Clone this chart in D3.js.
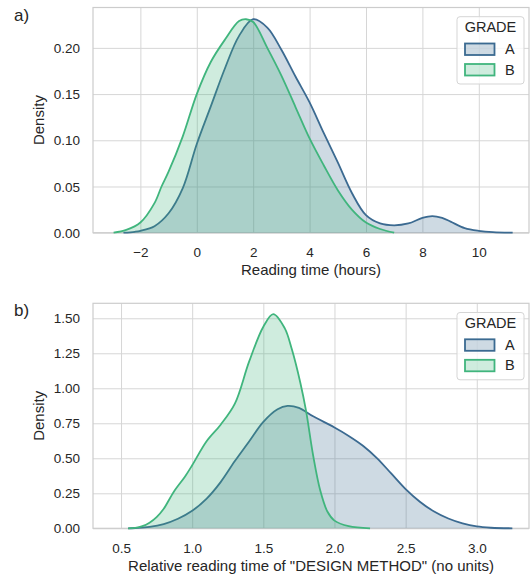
<!DOCTYPE html>
<html>
<head>
<meta charset="utf-8">
<script src="https://cdn.jsdelivr.net/npm/d3@7"></script>
<style>
  body { margin: 0; background: #fff; }
  text { font-family: "Liberation Sans", Arial, sans-serif; fill: #262626; }
</style>
</head>
<body>
<script>
// data: [x, density]
var grades = ["A", "B"];
var gradeColors = ["#3b6a91", "#40b57d"];

var hoursA = [[-2.6,0],[-2.2,0.001],[-2,0.002],[-1.5,0.007],[-1,0.021],[-0.5,0.048],[0,0.096],[0.5,0.137],[1,0.178],
  [1.5,0.213],[2,0.231],[2.5,0.222],[3,0.198],[3.5,0.169],[4,0.141],[4.5,0.108],[5,0.076],[5.5,0.043],
  [6,0.019],[6.5,0.010],[7,0.008],[7.5,0.010],[8,0.016],[8.35,0.018],[8.7,0.016],[9,0.012],[9.5,0.005],
  [10,0.002],[10.5,0.0006],[11.2,0]];
var hoursB = [[-2.95,0],[-2.5,0.003],[-2,0.011],[-1.5,0.032],[-1.25,0.050],[-1,0.066],[-0.5,0.104],
  [0,0.150],[0.5,0.185],[1,0.209],[1.5,0.229],[1.75,0.231],[2,0.228],[2.5,0.200],[3,0.170],[3.5,0.136],
  [4,0.102],[4.5,0.073],[5,0.046],[5.5,0.025],[6,0.011],[6.5,0.004],[7,0]];

var relA = [[0.55,0],[0.6,0.002],[0.7,0.010],[0.8,0.030],[0.9,0.068],[1.0,0.125],[1.1,0.21],[1.2,0.33],
  [1.3,0.48],[1.4,0.62],[1.5,0.76],[1.6,0.85],[1.67,0.874],[1.75,0.86],[1.85,0.80],[2.0,0.72],[2.1,0.66],
  [2.2,0.59],[2.3,0.50],[2.4,0.39],[2.5,0.28],[2.6,0.19],[2.7,0.12],[2.8,0.07],[2.9,0.035],[3.0,0.013],
  [3.1,0.004],[3.25,0]];
var relB = [[0.55,0],[0.6,0.003],[0.65,0.015],[0.7,0.04],[0.75,0.08],[0.8,0.14],[0.87,0.26],[0.95,0.37],
  [1.0,0.45],[1.1,0.62],[1.2,0.74],[1.3,0.89],[1.4,1.19],[1.5,1.44],[1.57,1.53],[1.65,1.43],[1.7,1.28],
  [1.76,1.04],[1.8,0.84],[1.85,0.52],[1.9,0.27],[1.95,0.12],[2.0,0.055],[2.1,0.015],[2.25,0]];

var hoursTicks = [-2, 0, 2, 4, 6, 8, 10];
var hoursDensityTicks = [0, 0.05, 0.10, 0.15, 0.20];
var relTicks = [0.5, 1.0, 1.5, 2.0, 2.5, 3.0];
var relDensityTicks = [0, 0.25, 0.5, 0.75, 1.0, 1.25, 1.5];

var svg = d3.select("body").append("svg")
    .attr("width", 530)
    .attr("height", 578);

function drawPanel(p) {
    var x = d3.scaleLinear().domain(p.xDomain).range([93, 529]);
    var y = d3.scaleLinear().domain(p.yDomain).range([p.bottom, p.top]);
    var width = 529 - 93, height = p.bottom - p.top;

    var g = svg.append("g");

    // grid
    var xAxis = d3.axisBottom(x).tickValues(p.xTicks).tickSize(-height).tickFormat(d3.format(p.xFmt));
    var yAxis = d3.axisLeft(y).tickValues(p.yTicks).tickSize(-width).tickFormat(d3.format(p.yFmt));

    var gx = g.append("g").attr("transform", "translate(0," + p.bottom + ")").call(xAxis);
    gx.select(".domain").remove();
    gx.selectAll(".tick line").attr("stroke", "#d6d6d6").attr("stroke-width", 1);
    gx.selectAll(".tick text").attr("y", 24.5).attr("dy", 0)
        .attr("font-size", "13.5px").attr("fill", "#262626");

    var gy = g.append("g").attr("transform", "translate(93,0)").call(yAxis);
    gy.select(".domain").remove();
    gy.selectAll(".tick line").attr("stroke", "#d6d6d6").attr("stroke-width", 1);
    gy.selectAll(".tick text").attr("x", -13).attr("dy", "0.34em")
        .attr("font-size", "13.5px").attr("fill", "#262626");

    g.selectAll(".tick text").attr("font-family", null);

    // frame
    g.append("rect")
        .attr("x", 93).attr("y", p.top)
        .attr("width", width).attr("height", height)
        .attr("fill", "none").attr("stroke", "#cccccc").attr("stroke-width", 1.2);

    var curve = d3.curveCatmullRom.alpha(0.5);
    var yv = function(d) { return y(Math.max(0, d[1])); };

    var area = d3.area()
        .curve(curve)
        .x(function(d) { return x(d[0]); })
        .y0(y(0))
        .y1(yv);

    var line = d3.line()
        .curve(curve)
        .x(function(d) { return x(d[0]); })
        .y(yv);

    p.series.forEach(function(s, i) {
        g.append("path").datum(s)
            .attr("d", area)
            .attr("fill", gradeColors[i])
            .attr("fill-opacity", 0.25);
        g.append("path").datum(s)
            .attr("d", line)
            .attr("fill", "none")
            .attr("stroke", gradeColors[i])
            .attr("stroke-width", 1.8);
    });

    // axis labels
    g.append("text")
        .attr("x", 311).attr("y", p.bottom + 42.5)
        .attr("text-anchor", "middle")
        .attr("font-size", "15px")
        .text(p.xLabel);

    g.append("text")
        .attr("transform", "translate(44," + (p.top + p.bottom) / 2 + ") rotate(-90)")
        .attr("text-anchor", "middle")
        .attr("font-size", "15px")
        .text("Density");

    // panel letter
    g.append("text")
        .attr("x", 14).attr("y", p.top + 13)
        .attr("font-size", "17px")
        .text(p.letter);

    // legend
    var lg = g.append("g").attr("transform", "translate(0," + (p.top - 7.5) + ")");
    lg.append("rect")
        .attr("x", 457).attr("y", 16.7)
        .attr("width", 67).attr("height", 67.3)
        .attr("rx", 3)
        .attr("fill", "#fff").attr("fill-opacity", 0.8)
        .attr("stroke", "#d5d5d5").attr("stroke-width", 1);
    lg.append("text")
        .attr("x", 490.5).attr("y", 32)
        .attr("text-anchor", "middle")
        .attr("font-size", "14.5px")
        .text("GRADE");
    grades.forEach(function(k, i) {
        lg.append("rect")
            .attr("x", 465).attr("y", 43.5 + i * 20.5)
            .attr("width", 29.5).attr("height", 11.5)
            .attr("fill", gradeColors[i]).attr("fill-opacity", 0.25)
            .attr("stroke", gradeColors[i]).attr("stroke-width", 1.8);
        lg.append("text")
            .attr("x", 505).attr("y", 54 + i * 20.5)
            .attr("font-size", "14.5px")
            .text(k);
    });
}

drawPanel({
    letter: "a)",
    top: 7.5, bottom: 232.7,
    xDomain: [-3.68, 11.78], yDomain: [0, 0.2437],
    xTicks: hoursTicks, yTicks: hoursDensityTicks,
    xFmt: "d", yFmt: ".2f",
    xLabel: "Reading time (hours)",
    series: [hoursA, hoursB]
});

drawPanel({
    letter: "b)",
    top: 303.3, bottom: 528.3,
    xDomain: [0.303, 3.367], yDomain: [0, 1.607],
    xTicks: relTicks, yTicks: relDensityTicks,
    xFmt: ".1f", yFmt: ".2f",
    xLabel: "Relative reading time of \"DESIGN METHOD\" (no units)",
    series: [relA, relB]
});
</script>
</body>
</html>
